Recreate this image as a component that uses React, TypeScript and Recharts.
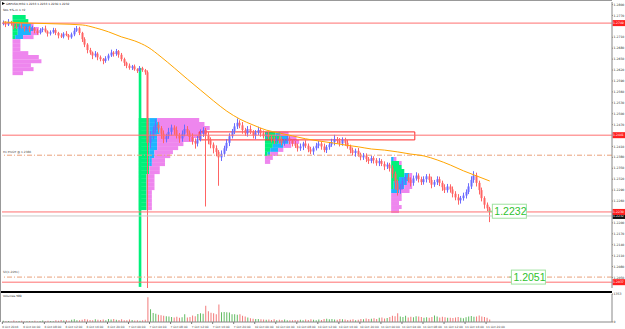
import {
  ComposedChart,
  BarChart,
  Bar,
  Line,
  XAxis,
  YAxis,
  ReferenceLine,
  ReferenceArea,
  ReferenceDot,
  Cell,
} from "recharts";

// GBPUSD M30, 6 Oct - 11 Oct 2016
const SLOTS = 232;
const PIP = 0.0001;
const firstOpen = 1.2748;

const closes = [
  1.2750, 1.2745, 1.2752, 1.2748, 1.2740, 1.2736, 1.2742, 1.2738, 1.2733, 1.2737,
  1.2730, 1.2735, 1.2728, 1.2722, 1.2730, 1.2734, 1.2726, 1.2720, 1.2724, 1.2730,
  1.2722, 1.2715, 1.2712, 1.2720, 1.2716, 1.2710, 1.2718, 1.2728, 1.2735, 1.2722,
  1.2705, 1.2690, 1.2675, 1.2668, 1.2660, 1.2665, 1.2655, 1.2650, 1.2645, 1.2652,
  1.2660, 1.2668, 1.2664, 1.2672, 1.2662, 1.2650, 1.2640, 1.2632, 1.2626, 1.2630,
  1.2622, 1.2618, 1.2625, 1.2620, 1.2614,
  1.2420,
  1.2440, 1.2455, 1.2470, 1.2460, 1.2445, 1.2430, 1.2438, 1.2450, 1.2462, 1.2455, 1.2440, 1.2432, 1.2445, 1.2458,
  1.2448, 1.2436, 1.2425, 1.2418, 1.2430, 1.2445, 1.2455, 1.2440, 1.2428, 1.2415,
  1.2405, 1.2395, 1.2380, 1.2390, 1.2405, 1.2420, 1.2438, 1.2452, 1.2465, 1.2475,
  1.2468, 1.2455, 1.2446, 1.2458, 1.2450, 1.2440, 1.2448, 1.2455, 1.2446, 1.2438,
  1.2442, 1.2436, 1.2430, 1.2425, 1.2432, 1.2428, 1.2420, 1.2426, 1.2432, 1.2425,
  1.2418, 1.2412, 1.2405, 1.2410, 1.2418, 1.2412, 1.2402, 1.2396, 1.2405, 1.2412,
  1.2418, 1.2410, 1.2400, 1.2408, 1.2415, 1.2422, 1.2430, 1.2425, 1.2418, 1.2428,
  1.2420, 1.2410, 1.2400, 1.2392, 1.2398, 1.2388, 1.2380, 1.2385, 1.2376, 1.2370,
  1.2378, 1.2372, 1.2364, 1.2370, 1.2362, 1.2355, 1.2360, 1.2350, 1.2335, 1.2310,
  1.2290, 1.2300, 1.2315, 1.2325, 1.2318, 1.2310, 1.2322, 1.2330, 1.2320, 1.2312,
  1.2320, 1.2328, 1.2318, 1.2305, 1.2312, 1.2320, 1.2310, 1.2298, 1.2290, 1.2300,
  1.2292, 1.2280, 1.2270, 1.2262, 1.2268, 1.2275, 1.2285, 1.2300, 1.2318, 1.2330,
  1.2310, 1.2290, 1.2268, 1.2250, 1.2240, 1.2232,
];

// wick lengths in pips above / below the body
const wickUp = [
  6, 4, 8, 3, 5, 7, 4, 6, 3, 5,
  4, 7, 3, 6, 5, 4, 8, 3, 5, 6,
  5, 3, 6, 4, 7, 3, 5, 8, 6, 4,
  3, 5, 4, 6, 3, 7, 4, 5, 3, 6,
  5, 8, 4, 6, 3, 5, 4, 3, 6, 4,
  5, 3, 6, 4, 3,
  5,
  12, 10, 15, 8, 6, 9, 7, 11, 8, 6, 10, 7, 9, 12,
  8, 6, 10, 7, 9, 12, 8, 6, 10, 7,
  6, 8, 5, 9, 7, 10, 8, 6, 9, 12,
  7, 9, 6, 8, 10, 5, 7, 9, 6, 8,
  6, 8, 5, 7, 9, 6, 8, 5, 7, 6,
  5, 7, 6, 8, 5, 9, 6, 7, 5, 8,
  7, 5, 8, 6, 7, 9, 12, 6, 8, 7,
  6, 8, 5, 7, 6, 8, 5, 7, 6, 5,
  7, 5, 6, 8, 5, 7, 6, 5, 8, 6,
  9, 7, 8, 6, 10, 7, 8, 9, 6, 7,
  8, 6, 7, 9, 6, 8, 7, 6, 8, 7,
  6, 8, 7, 9, 6, 8, 7, 9, 10, 12,
  8, 6, 7, 5, 6, 4,
];

const wickDn = [
  5, 7, 4, 6, 8, 3, 5, 4, 7, 5,
  6, 3, 7, 5, 4, 6, 3, 8, 5, 4,
  6, 8, 4, 5, 3, 7, 4, 5, 3, 6,
  8, 7, 9, 6, 10, 5, 8, 6, 9, 5,
  6, 4, 7, 5, 8, 6, 9, 7, 5, 6,
  4, 6, 3, 5, 7,
  580,
  15, 10, 8, 12, 14, 11, 9, 7, 10, 13, 8, 12, 9, 7,
  9, 12, 10, 14, 8, 6, 9, 195, 12, 10,
  14, 12, 78, 10, 8, 7, 9, 6, 8, 7,
  8, 10, 7, 9, 6, 8, 10, 7, 9, 6,
  7, 6, 9, 8, 6, 10, 7, 8, 6, 9,
  8, 6, 9, 7, 10, 6, 8, 7, 9, 6,
  7, 9, 6, 8, 7, 6, 9, 7, 8, 6,
  8, 6, 9, 7, 10, 6, 8, 7, 9, 8,
  6, 9, 7, 8, 6, 10, 7, 9, 12, 18,
  15, 10, 8, 9, 7, 10, 8, 6, 9, 8,
  7, 9, 8, 10, 6, 8, 9, 10, 8, 7,
  9, 10, 8, 12, 9, 7, 8, 6, 7, 8,
  10, 12, 9, 11, 8, 30,
];

const volumes = [
  60, 40, 50, 30, 70, 40, 50, 60, 30, 40,
  50, 40, 60, 30, 50, 70, 40, 60, 50, 40,
  80, 60, 100, 70, 90, 60, 110, 130, 90, 80,
  110, 140, 120, 100, 90, 130, 110, 100, 120, 90,
  150, 120, 140, 110, 100, 130, 90, 80, 120, 100,
  70, 90, 60, 80, 110,
  1200,
  620, 440, 400, 350, 330,
  300, 280, 260, 240, 220, 250, 200, 230, 380,
  220, 240, 310, 280, 390, 420, 400, 790, 520, 450,
  420, 380, 840, 470, 480, 470, 460, 380, 380, 350,
  380, 300, 260, 220, 180, 160, 150, 140, 130, 120,
  110, 120, 100, 130, 90, 110, 100, 120, 90, 80,
  90, 100, 80, 110, 90, 120, 100, 130, 110, 90,
  120, 100, 140, 160, 130, 150, 120, 110, 140, 130,
  120, 100, 110, 130, 90, 110, 150, 130, 170, 140,
  160, 180, 150, 200, 220, 170, 190, 240, 300, 280,
  420, 260, 240, 300, 220, 250, 230, 280, 260, 240,
  210, 230, 200, 240, 310, 260, 220, 250, 230, 200,
  210, 190, 220, 240, 200, 180, 230, 260, 290, 250,
  270, 310, 260, 240, 200, 120,
];

// moving average, read at every fifth/tenth bar
const maIndex = [0, 10, 20, 30, 35, 40, 45, 50, 55, 60, 65, 70, 75, 80, 85, 90, 95, 100, 105, 110, 115, 120, 125, 130, 135, 140, 145, 150, 155, 160, 165, 170, 175, 180, 185];
const maValue = [1.2752, 1.2749, 1.2747, 1.2744, 1.2736, 1.2725, 1.2711, 1.2700, 1.2683, 1.2656, 1.2626, 1.2595, 1.2565, 1.2535, 1.2507, 1.2485, 1.2469, 1.2455, 1.2447, 1.2439, 1.2431, 1.2425, 1.2420, 1.2414, 1.2409, 1.2403, 1.2400, 1.2395, 1.2389, 1.2384, 1.2373, 1.2359, 1.2343, 1.2329, 1.2315];

const timeTickIndex = [0, 8, 16, 24, 32, 40, 48, 56, 64, 72, 80, 88, 96, 104, 112, 120, 128, 136, 144, 152, 160, 168, 176, 184];
const timeTickLabels = [
  "6 Oct 2016", "6 Oct 04:00", "6 Oct 08:00", "6 Oct 12:00", "6 Oct 16:00", "6 Oct 20:00",
  "7 Oct 00:00", "7 Oct 04:00", "7 Oct 08:00", "7 Oct 12:00", "7 Oct 16:00", "7 Oct 20:00",
  "10 Oct 00:00", "10 Oct 04:00", "10 Oct 08:00", "10 Oct 12:00", "10 Oct 16:00", "10 Oct 20:00",
  "11 Oct 00:00", "11 Oct 04:00", "11 Oct 08:00", "11 Oct 12:00", "11 Oct 16:00", "11 Oct 20:00",
];

const priceTicks = [
  1.2050, 1.2080, 1.2110, 1.2140, 1.2170, 1.2200, 1.2260, 1.2290, 1.2320, 1.2350,
  1.2380, 1.2410, 1.2470, 1.2500, 1.2530, 1.2560, 1.2590, 1.2620, 1.2650, 1.2680,
  1.2710, 1.2770, 1.2800,
];

const levelPrices = [1.2749, 1.2441, 1.2230, 1.2037];
const levelTags = ["1.2749", "1.2441", "1.2230", "1.2037"];
const pivotPrices = [1.2386, 1.2051];
const bidPrice = 1.2219;

// volume profiles: anchor bar, top price, row height, bar counts per colour
const profileAnchor = [4, 52, 100, 148];
const profileTop = [1.2771, 1.2488, 1.2450, 1.2381];
const profileStep = 0.0011;
const profileGreen = [
  [5, 6, 3, 2, 2, 1, 0, 0, 0, 0, 0, 0, 0, 0, 0],
  [4, 4, 4, 4, 4, 4, 4, 4, 4, 4, 4, 4, 4, 4, 3, 3, 3, 3, 3, 3, 3, 3, 3],
  [4, 6, 5, 3, 2, 1, 0, 0],
  [0, 3, 4, 5, 5, 3, 1, 1, 0, 0, 0, 0, 0, 0],
];
const profileCyan = [
  [0, 0, 4, 6, 5, 3, 0, 0, 0, 0, 0, 0, 0, 0, 0],
  [3, 4, 4, 4, 3, 3, 3, 3, 2, 2, 1, 1, 0, 0, 0, 0, 0, 0, 0, 0, 0, 0, 0],
  [2, 3, 4, 4, 3, 1, 0, 0],
  [1, 0, 0, 0, 2, 4, 5, 4, 3, 0, 0, 0, 0, 0],
];
const profileViolet = [
  [0, 0, 1, 2, 3, 4, 3, 3, 3, 6, 10, 11, 7, 8, 4],
  [16, 17, 19, 18, 16, 14, 10, 8, 7, 6, 5, 5, 4, 4, 3, 3, 3, 3, 2, 2, 2, 2, 2],
  [3, 3, 4, 3, 2, 3, 3, 2],
  [1, 1, 0, 0, 1, 1, 2, 3, 4, 4, 4, 3, 4, 3],
];
const columnAnchor = 52;
const columnTop = 1.2626;

const UP = "#6b6bff";
const DOWN = "#ff6464";
const PRICE_MIN = 1.2021;
const PRICE_MAX = 1.2807;

const rows = Array.from({ length: SLOTS }, (_, i) => {
  const row: any = { i };
  if (i < closes.length) {
    const open = i === 0 ? firstOpen : closes[i - 1];
    const close = closes[i];
    const high = Math.max(open, close) + (wickUp[i] ?? 5) * PIP;
    const low = Math.min(open, close) - (wickDn[i] ?? 5) * PIP;
    row.open = open;
    row.close = close;
    row.high = high;
    row.low = low;
    row.range = [low, high];
    row.vol = volumes[i] ?? 0;
    row.up = close >= open;
  }
  const m = maIndex.indexOf(i);
  if (m >= 0) row.ma = maValue[m];
  return row;
});

type Seg = { x1: number; x2: number; y1: number; y2: number; fill: string };
const segments: Seg[] = [];
profileAnchor.forEach((at, p) => {
  profileGreen[p].forEach((g, r) => {
    const hi = profileTop[p] - r * profileStep;
    const lo = hi - profileStep;
    const c = profileCyan[p][r];
    const v = profileViolet[p][r];
    if (g > 0) segments.push({ x1: at, x2: at + g - 1, y1: lo, y2: hi, fill: "#00f07a" });
    if (c > 0) segments.push({ x1: at + g, x2: at + g + c - 1, y1: lo, y2: hi, fill: "#1eb4ff" });
    if (v > 0) segments.push({ x1: at + g + c, x2: at + g + c + v - 1, y1: lo, y2: hi, fill: "#ee86ee" });
  });
});

const Candle = (p: any) => {
  const { x, y, width, height, payload } = p;
  if (!payload || payload.open == null) return <g />;
  const { open, close, high, low } = payload;
  const top = Math.min(y, y + height);
  const h = Math.abs(height);
  const k = h / (high - low);
  const cx = Math.floor(x + width / 2) + 0.5;
  const yo = top + (high - open) * k;
  const yc = top + (high - close) * k;
  const col = close >= open ? UP : DOWN;
  const bt = Math.min(yo, yc);
  const bh = Math.max(1, Math.abs(yo - yc));
  return (
    <g>
      <line x1={cx} x2={cx} y1={top} y2={top + h} stroke={col} strokeWidth={1} />
      <rect x={cx - 1} y={bt} width={2} height={bh} fill={col} />
    </g>
  );
};

const AxisTag = (props: any) => {
  const { viewBox, text, bg } = props;
  if (!viewBox) return null;
  const x = viewBox.x + viewBox.width;
  const y = viewBox.y;
  return (
    <g>
      <rect x={x + 0.5} y={y - 3} width={12.5} height={6} fill={bg} />
      <text x={x + 1} y={y + 1.2} fontSize={3.1} fill="#fff" fontFamily="DejaVu Sans">
        {text}
      </text>
    </g>
  );
};

const PriceBox = ({ cx, cy, text, dx }: any) => (
  <g>
    <line x1={cx - 4} x2={cx + dx} y1={cy} y2={cy} stroke="#7fd97f" />
    <rect x={cx + dx} y={cy - 7} width={34} height={14} fill="#fff" stroke="#9fe39f" />
    <text x={cx + dx + 2} y={cy + 4} fontSize={10.5} fill="#2ec22e" fontFamily="Liberation Sans">
      {text}
    </text>
  </g>
);

const TimeTick = (p: any) => {
  const { x, y, payload } = p;
  const k = timeTickIndex.indexOf(payload.value);
  return (
    <g>
      <line x1={x - 1} x2={x - 1} y1={y} y2={y + 2} stroke="#777" />
      <text x={x - 1} y={y + 5.5} fontSize={2.9} fill="#444" fontFamily="DejaVu Sans">
        {timeTickLabels[k] ?? ""}
      </text>
    </g>
  );
};

export default function App() {
  return (
    <div
      style={{
        position: "absolute",
        left: 0,
        top: 0,
        width: 625,
        height: 329,
        background: "#fff",
        overflow: "hidden",
      }}
    >
      <div style={{ position: "absolute", left: 0, top: 0 }}>
        <ComposedChart width={625} height={288} data={rows} margin={{ top: 2, right: 0, bottom: 0, left: 2 }}>
          <XAxis dataKey="i" type="category" hide />
          <YAxis
            orientation="right"
            width={13}
            domain={[PRICE_MIN, PRICE_MAX]}
            allowDataOverflow
            ticks={priceTicks}
            interval={0}
            tickFormatter={(v: number) => v.toFixed(4)}
            tick={{ fontSize: 3.1, fill: "#333", fontFamily: "DejaVu Sans" }}
            tickSize={1}
            tickMargin={0.5}
            axisLine={{ stroke: "#888" }}
            tickLine={{ stroke: "#888" }}
          />
          {segments.map((s, k) => (
            <ReferenceArea
              key={"pf" + k}
              x1={s.x1}
              x2={s.x2}
              y1={s.y1}
              y2={s.y2}
              fill={s.fill}
              fillOpacity={1}
              stroke="none"
              ifOverflow="visible"
            />
          ))}
          <ReferenceArea
            x1={columnAnchor}
            x2={columnAnchor}
            y1={PRICE_MIN + 0.0003}
            y2={columnTop}
            fill="#00f07a"
            fillOpacity={1}
            stroke="none"
          />
          <ReferenceArea x1={75} x2={156} y1={1.2428} y2={1.2450} fill="none" fillOpacity={0} stroke="#ff2a2a" strokeWidth={1} />
          {pivotPrices.map((p) => (
            <ReferenceLine key={"pv" + p} y={p} stroke="#e9a07a" strokeDasharray="5 2 1 2" strokeWidth={1} />
          ))}
          <ReferenceLine y={bidPrice} stroke="#c8c8c8" strokeWidth={1} label={<AxisTag text="1.2232" bg="#111" />} />
          {levelPrices.map((p, k) => (
            <ReferenceLine
              key={"lv" + p}
              y={p}
              stroke="#ff7070"
              strokeWidth={1}
              label={<AxisTag text={levelTags[k]} bg="#ff2020" />}
            />
          ))}
          <Bar dataKey="range" shape={<Candle />} isAnimationActive={false} />
          <Line
            dataKey="ma"
            type="monotone"
            stroke="#ffa500"
            strokeWidth={1}
            dot={false}
            connectNulls
            isAnimationActive={false}
          />
          <ReferenceDot
            x={186}
            y={1.2232}
            r={0}
            ifOverflow="visible"
            shape={(p: any) => <PriceBox {...p} text="1.2232" dx={0} />}
          />
          <ReferenceDot
            x={194}
            y={1.2051}
            r={0}
            ifOverflow="visible"
            shape={(p: any) => <PriceBox {...p} text="1.2051" dx={-2} />}
          />
        </ComposedChart>
      </div>

      <div style={{ position: "absolute", left: 0, top: 291, width: 612, height: 2, background: "#000" }} />

      <div style={{ position: "absolute", left: 0, top: 291 }}>
        <BarChart width={625} height={38} data={rows} margin={{ top: 3, right: 0, bottom: 0, left: 2 }} barCategoryGap="30%">
          <XAxis
            dataKey="i"
            type="category"
            height={7}
            ticks={timeTickIndex}
            interval={0}
            tick={<TimeTick />}
            tickSize={0}
            tickMargin={0}
            tickLine={false}
            axisLine={{ stroke: "#888" }}
          />
          <YAxis
            orientation="right"
            width={13}
            domain={[0, 1353]}
            ticks={[0, 1353]}
            interval={0}
            tick={{ fontSize: 3.1, fill: "#333", fontFamily: "DejaVu Sans" }}
            tickSize={1}
            tickMargin={0.5}
            axisLine={{ stroke: "#888" }}
            tickLine={{ stroke: "#888" }}
          />
          <Bar dataKey="vol" isAnimationActive={false}>
            {rows.map((r) => (
              <Cell key={r.i} fill={r.up ? "#62bb62" : "#f27a7a"} />
            ))}
          </Bar>
        </BarChart>
      </div>

      <svg width={625} height={329} style={{ position: "absolute", left: 0, top: 0, pointerEvents: "none" }}>
        <line x1={0.5} x2={0.5} y1={0} y2={322} stroke="#999" />
        <line x1={0} x2={612} y1={0.5} y2={0.5} stroke="#999" />
        <polygon points="2,2 5,3.5 2,5" fill="#000" />
        <text x={6} y={5} fontSize={2.9} fill="#222" fontFamily="DejaVu Sans">
          GBPUSD,M30 1.2233 1.2233 1.2230 1.2232
        </text>
        <text x={3} y={11} fontSize={2.9} fill="#222" fontFamily="DejaVu Sans">
          SDL    5%-m    1.72
        </text>
        <text x={3} y={153} fontSize={2.9} fill="#444" fontFamily="DejaVu Sans">
          R1 PIVOT @ 1.2386
        </text>
        <text x={3} y={273} fontSize={2.9} fill="#444" fontFamily="DejaVu Sans">
          S3(1.2051)
        </text>
        <text x={3} y={297} fontSize={2.9} fill="#222" fontFamily="DejaVu Sans">
          Volumes 589
        </text>
      </svg>
    </div>
  );
}
